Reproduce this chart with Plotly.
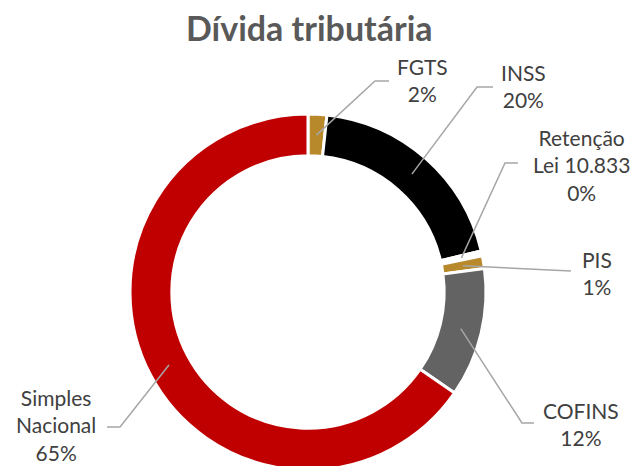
import math
import plotly.graph_objects as go

# ---- data ----
categories = ["FGTS", "INSS", "Retenção<br>Lei 10.833", "PIS", "COFINS", "Simples<br>Nacional"]
values = [1.7, 19.6, 0.45, 1.15, 11.7, 65.4]
colors = ["#B8892B", "#000000", "#FFFFFF", "#B8892B", "#636363", "#C00000"]
title_text = "Dívida tributária"

# ---- layout (pixels) ----
W, H = 640, 470          # page is cropped at 466 like the reference
TOP = 114
R = (H - TOP) / 2
CX, CY = 308, H - R
HOLE = 0.765

# text centre, elbow, end of leader line (pixels)
label_layout = [
    ((422, 80), (375, 81), (389, 81)),
    ((523, 86), (477, 87), (493, 87)),
    ((581, 165), (505, 163), (518, 163)),
    ((597, 273), None, (571, 271)),
    ((581, 424), (522, 423), (534, 423)),
    ((56, 425), (120, 427), (107, 427)),
]


def px(x):
    return x / W


def py(y):
    return 1 - y / H


fig = go.Figure(
    go.Pie(
        labels=categories,
        values=values,
        sort=False,
        direction="clockwise",
        rotation=0,
        hole=HOLE,
        textinfo="none",
        marker=dict(colors=colors, line=dict(color="#FFFFFF", width=3)),
        domain=dict(x=[(CX - R) / W, (CX + R) / W], y=[0, (H - TOP) / H]),
        hoverinfo="label+percent",
    )
)

total = sum(values)
cum = 0.0
r_mid = R * (1 + HOLE) / 2
annotations = []
shapes = []
for cat, v, (tpos, elbow, end) in zip(categories, values, label_layout):
    mid = (cum + v / 2) / total * 2 * math.pi
    cum += v
    ax = CX + r_mid * math.sin(mid)
    ay = CY - r_mid * math.cos(mid)
    pts = [(ax, ay)] + ([elbow] if elbow else []) + [end]
    path = "M " + " L ".join(f"{px(x)},{py(y)}" for x, y in pts)
    shapes.append(dict(type="path", path=path, xref="paper", yref="paper",
                       line=dict(color="#A6A6A6", width=1.5)))
    pct = round(v / total * 100)
    annotations.append(dict(
        x=px(tpos[0]), y=py(tpos[1]), xref="paper", yref="paper",
        xanchor="center", yanchor="middle", showarrow=False,
        text=f"{cat}<br>{pct}%", align="center",
        font=dict(family="Lato", size=21, color="#404040"),
    ))

annotations.append(dict(
    x=px(309), y=py(27), xref="paper", yref="paper",
    xanchor="center", yanchor="middle", showarrow=False,
    text=f"<b>{title_text}</b>",
    font=dict(family="Lato", size=34, color="#595959"),
))

fig.update_layout(
    width=W, height=H,
    margin=dict(l=0, r=0, t=0, b=0),
    paper_bgcolor="#FFFFFF",
    plot_bgcolor="#FFFFFF",
    showlegend=False,
    annotations=annotations,
    shapes=shapes,
)

fig.write_html(
    "out.html",
    config={"displayModeBar": False},
    post_script="document.body.style.margin='0px';"
                "document.body.style.overflow='hidden';"
                "document.documentElement.style.overflow='hidden';",
)
